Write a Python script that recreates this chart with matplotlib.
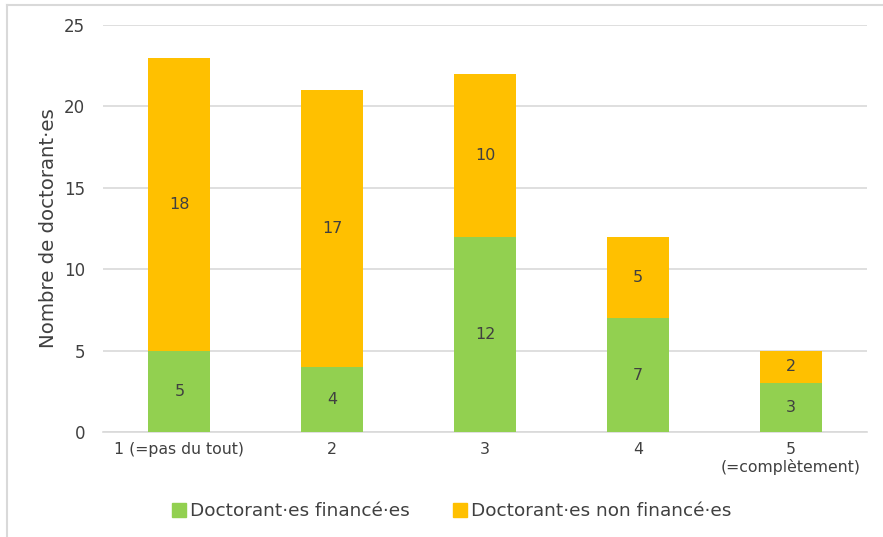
import matplotlib.pyplot as plt
from matplotlib.lines import Line2D
import numpy as np

categories = ['1 (=pas du tout)', '2', '3', '4', '5\n(=complètement)']
finances = [5, 4, 12, 7, 3]
non_finances = [18, 17, 10, 5, 2]
labels = ['Doctorant·es financé·es', 'Doctorant·es non financé·es']

green = '#92D050'
orange = '#FFC000'
text_col = '#404040'

fig = plt.figure(figsize=(8.83, 5.37), dpi=100)
ax = fig.add_axes([0.1166, 0.1955, 0.8654, 0.7579])

x = np.arange(len(categories))
w = 0.405
ax.bar(x, finances, w, color=green, label=labels[0], zorder=3)
ax.bar(x, non_finances, w, bottom=finances, color=orange, label=labels[1], zorder=3)

# value labels in the middle of each segment
for i in range(len(x)):
    ax.text(x[i], finances[i] / 2, str(finances[i]), ha='center', va='center',
            fontsize=11.5, color=text_col, zorder=4)
    ax.text(x[i], finances[i] + non_finances[i] / 2, str(non_finances[i]),
            ha='center', va='center', fontsize=11.5, color=text_col, zorder=4)

ax.set_xlim(-0.5, len(categories) - 0.5)
ax.set_ylim(0, 25)
ax.set_yticks([0, 5, 10, 15, 20, 25])
ax.set_xticks(x)
ax.set_xticklabels(categories, fontsize=11.3, color=text_col, linespacing=1.15)
ax.tick_params(axis='y', labelsize=12, labelcolor=text_col, length=0, pad=13)
ax.tick_params(axis='x', length=0, pad=7)
ax.yaxis.grid(True, color='#d9d9d9', linewidth=1.2, zorder=0)
for s in ['top', 'right', 'left']:
    ax.spines[s].set_visible(False)
ax.spines['bottom'].set_color('#d9d9d9')
ax.spines['bottom'].set_linewidth(1.2)

ax.set_ylabel('Nombre de doctorant·es', fontsize=14.2, color=text_col, labelpad=4)

handles = [Line2D([], [], marker='s', linestyle='', markersize=10, color=green),
           Line2D([], [], marker='s', linestyle='', markersize=10, color=orange)]
fig.legend(handles, labels, loc='center', bbox_to_anchor=(0.51, 0.048), ncol=2,
           frameon=False, fontsize=13.3, labelcolor=text_col, handletextpad=0.1,
           columnspacing=2.2, handlelength=1.0)

# light frame on top and left like the original export
fig.add_artist(Line2D([7 / 883, 1], [1 - 5 / 537, 1 - 5 / 537], color='#d9d9d9', linewidth=1.5))
fig.add_artist(Line2D([7 / 883, 7 / 883], [0, 1 - 5 / 537], color='#d9d9d9', linewidth=1.5))

fig.savefig('out.png', dpi=100)
